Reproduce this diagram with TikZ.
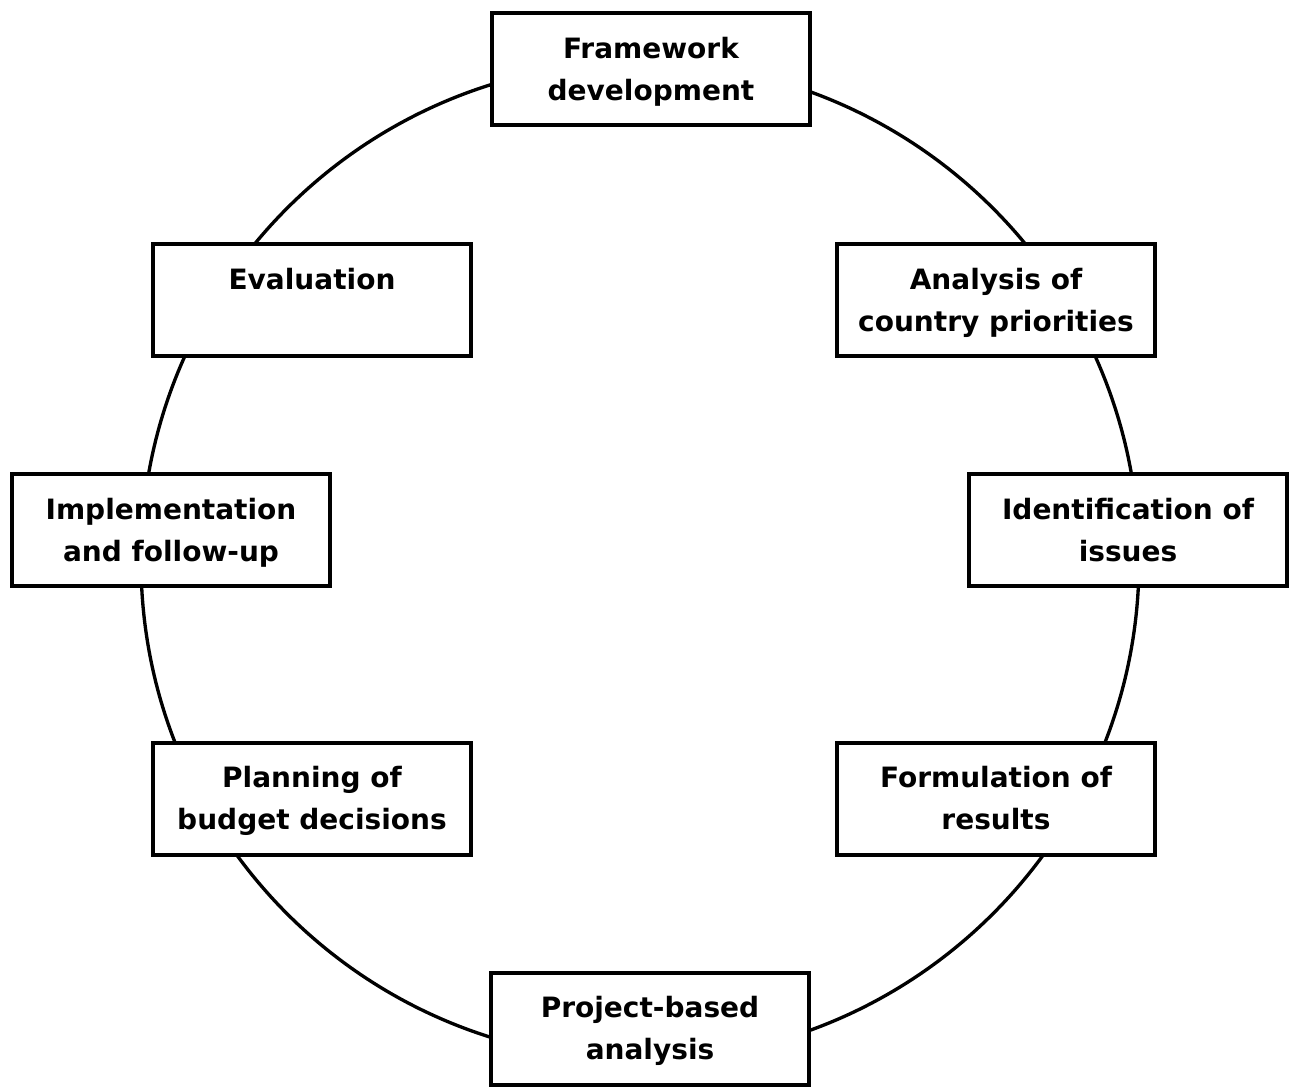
\documentclass[tikz,border=0pt]{standalone}
\usepackage{fontspec}
\setmainfont{DejaVu Sans}
\usepackage{xcolor}

\tikzset{
  stage/.style={draw=black, line width=3pt, fill=white, rectangle,
    minimum width=238pt, minimum height=84pt, align=center,
    text height=46.8pt, text depth=0pt,
    font=\fontsize{21}{31.5}\selectfont\bfseries},
  ring/.style={draw=black, line width=2.5pt}
}

\begin{document}
\begin{tikzpicture}[x=0.75pt,y=0.75pt,yscale=-1,xscale=1]
%set diagram frame: 1289 wide, 1087 high
\useasboundingbox (0,0) rectangle (1289,1087);

%Shape: Circle [ring behind the stages]
\coordinate (hub) at (640,561);
\draw [ring] (hub) circle [radius=499];

% Stage Nodes
\node [stage] (framework) at (651,69.5) {Framework\\development};
\node [stage] (analysis) at (996,300) {Analysis of\\country priorities};
\node [stage] (issues) at (1128,530) {Identification of\\issues};
\node [stage] (results) at (996,798.5) {Formulation of\\results};
\node [stage] (project) at (650,1028.5) {Project-based\\analysis};
\node [stage] (planning) at (312,798.5) {Planning of\\budget decisions};
\node [stage] (implement) at (171,530) {Implementation\\and follow-up};
\node [stage] (evaluation) at (312,300) {Evaluation\\~};

\end{tikzpicture}
\end{document}
